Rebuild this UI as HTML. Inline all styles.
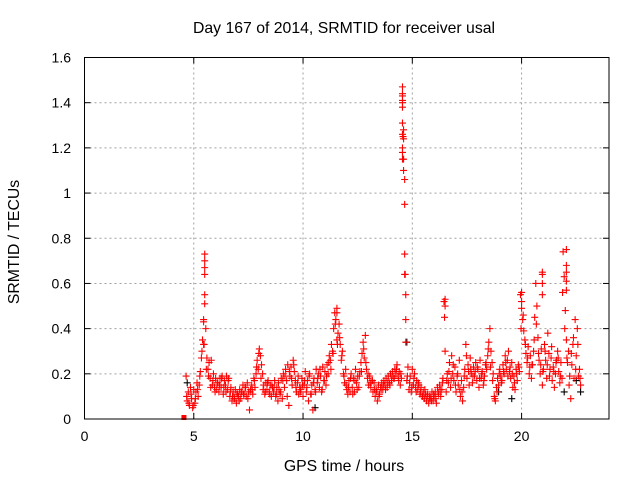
<!DOCTYPE html>
<html><head><meta charset="utf-8"><style>
body{margin:0;background:#fff;}
svg text{font-family:"Liberation Sans",sans-serif;fill:#000;}
</style></head><body>
<svg id="chart" width="640" height="480" viewBox="0 0 640 480" xmlns="http://www.w3.org/2000/svg">
<rect width="640" height="480" fill="#fff"/>
<text x="344" y="33" font-size="15.8" text-anchor="middle">Day 167 of 2014, SRMTID for receiver usal</text>
<text x="344" y="471" font-size="15.8" text-anchor="middle">GPS time / hours</text>
<text x="19" y="242" font-size="15.8" text-anchor="middle" transform="rotate(-90 19 242)">SRMTID / TECUs</text>
<g id="grid"></g><g id="ticks"></g><g id="marks"></g>
<rect x="84.5" y="57.5" width="524.5" height="361.5" fill="none" stroke="#000" stroke-width="1"/>
</svg>
<script>
const xTicks=[0,5,10,15,20];
const yTicks=[0,0.2,0.4,0.6,0.8,1,1.2,1.4,1.6];
const yTickLabels=["0","0.2","0.4","0.6","0.8","1","1.2","1.4","1.6"];
const startTime=4.65;
const timeStep=0.05;
const mainValues=[
0.19,0.08,0.12,0.06,0.14,0.09,0.05,0.13,0.07,0.12,0.16,0.10,0.15,0.21,0.27,0.35,0.43,0.64,0.40,0.27,
0.22,0.25,0.18,0.26,0.15,0.20,0.14,0.18,0.13,0.16,0.12,0.18,0.14,0.19,0.11,0.17,0.15,0.19,0.13,0.18,
0.10,0.14,0.08,0.12,0.09,0.13,0.07,0.11,0.10,0.13,0.09,0.12,0.15,0.11,0.14,0.10,0.16,0.12,0.04,0.13,
0.15,0.11,0.18,0.14,0.20,0.26,0.22,0.31,0.28,0.24,0.20,0.15,0.11,0.16,0.13,0.17,0.12,0.15,0.10,0.14,
0.12,0.17,0.10,0.14,0.08,0.13,0.11,0.18,0.09,0.20,0.14,0.22,0.17,0.24,0.06,0.19,0.23,0.15,0.26,0.21,
0.17,0.12,0.16,0.11,0.14,0.13,0.18,0.10,0.15,0.21,0.12,0.17,0.08,0.20,0.11,0.15,0.04,0.18,0.13,0.22,
0.16,0.20,0.14,0.19,0.12,0.23,0.17,0.21,0.15,0.24,0.20,0.28,0.26,0.33,0.30,0.40,0.47,0.44,0.35,0.38,
0.42,0.33,0.26,0.30,0.20,0.16,0.22,0.13,0.11,0.17,0.12,0.20,0.14,0.18,0.12,0.22,0.16,0.19,0.14,0.21,
0.25,0.29,0.34,0.27,0.37,0.22,0.18,0.15,0.19,0.14,0.17,0.12,0.16,0.10,0.13,0.08,0.15,0.11,0.14,0.16,
0.13,0.17,0.15,0.18,0.14,0.19,0.16,0.20,0.17,0.21,0.18,0.22,0.20,0.24,0.19,0.21,0.15,0.18,1.40,1.15,
0.95,0.55,0.17,0.23,0.13,0.19,0.12,0.22,0.15,0.20,0.14,0.17,0.13,0.15,0.11,0.14,0.10,0.12,0.09,0.11,
0.08,0.11,0.07,0.10,0.09,0.12,0.08,0.10,0.12,0.07,0.14,0.11,0.15,0.10,0.13,0.18,0.52,0.30,0.12,0.20,
0.16,0.25,0.14,0.28,0.20,0.17,0.23,0.12,0.19,0.15,0.26,0.10,0.17,0.08,0.14,0.22,0.33,0.18,0.24,0.15,
0.27,0.20,0.16,0.23,0.19,0.25,0.17,0.22,0.14,0.26,0.18,0.21,0.15,0.19,0.24,0.22,0.28,0.34,0.40,0.30,
0.25,0.20,0.10,0.08,0.14,0.18,0.15,0.22,0.19,0.17,0.24,0.20,0.28,0.22,0.26,0.30,0.21,0.18,0.25,0.14,
0.19,0.13,0.22,0.17,0.24,0.21,0.55,0.49,0.44,0.39,0.35,0.29,0.25,0.32,0.20,0.28,0.18,0.24,0.30,0.45,
0.60,0.50,0.36,0.26,0.20,0.31,0.15,0.22,0.33,0.26,0.18,0.38,0.29,0.22,0.27,0.17,0.23,0.14,0.20,0.26,
0.30,0.21,0.16,0.25,0.18,0.74,0.63,0.48,0.35,0.25,0.30,0.19,0.09,0.24,0.33,0.18,0.44,0.28,0.40,0.19,
0.22,0.15];
const secondStart=4.675;
const secondStep=0.1;
const secondValues=[
0.10,0.07,0.11,0.06,0.09,0.13,0.19,0.30,0.33,0.22,
0.19,0.14,0.17,0.12,0.16,0.15,0.18,0.14,0.12,0.17,
0.12,0.10,0.09,0.11,0.08,0.12,0.11,0.14,0.09,0.12,
0.13,0.17,0.23,0.29,0.18,0.13,0.12,0.16,0.11,0.15,
0.14,0.11,0.16,0.12,0.17,0.19,0.10,0.21,0.18,0.24,
0.14,0.19,0.12,0.15,0.17,0.14,0.19,0.11,0.16,0.12,
0.18,0.22,0.13,0.17,0.19,0.25,0.22,0.29,0.42,0.33,
0.36,0.28,0.19,0.15,0.14,0.18,0.11,0.17,0.13,0.19,
0.21,0.31,0.25,0.20,0.16,0.17,0.13,0.12,0.10,0.13,
0.15,0.13,0.16,0.15,0.19,0.18,0.22,0.17,0.20,1.25,
0.64,0.19,0.16,0.14,0.18,0.12,0.16,0.12,0.10,0.13,
0.10,0.09,0.08,0.11,0.09,0.12,0.13,0.16,0.45,0.17,
0.21,0.18,0.24,0.15,0.20,0.13,0.12,0.19,0.28,0.21,
0.22,0.19,0.21,0.23,0.18,0.20,0.17,0.25,0.31,0.23,
0.17,0.09,0.12,0.20,0.16,0.21,0.25,0.19,0.23,0.20,
0.16,0.20,0.23,0.40,0.46,0.33,0.27,0.23,0.24,0.35,
0.42,0.29,0.24,0.21,0.30,0.24,0.19,0.32,0.21,0.25,
0.27,0.19,0.56,0.40,0.27,0.15,0.29,0.36,0.22,0.33,
0.18];
const extraTimes=[5.50,5.50,5.50,5.50,5.50,5.45,5.45,14.55,14.55,14.55,14.55,14.55,14.55,14.55,14.55,14.55,14.55,14.60,14.60,14.60,14.65,14.65,14.65,14.70,14.70,11.55,11.55,16.50,16.50,20.00,20.00,20.95,20.95,20.95,20.95,22.05,22.05,22.05,22.05,22.05];
const extraValues=[0.73,0.70,0.67,0.55,0.51,0.44,0.33,1.47,1.44,1.43,1.41,1.38,1.31,1.26,1.20,1.18,1.15,1.28,1.24,1.10,1.06,0.73,0.64,0.44,0.34,0.49,0.47,0.53,0.50,0.56,0.52,0.65,0.64,0.60,0.55,0.75,0.68,0.65,0.61,0.57];
const blackTimes=[4.70,10.55,14.75,18.95,19.55,21.95,22.50,22.70];
const blackValues=[0.16,0.05,0.34,0.12,0.09,0.12,0.17,0.12];
const squareTimes=[4.55];
const squareValues=[0];

const X0=84.5,X1=609,Y0=419,Y1=57.5,XMAX=24,YMAX=1.6;
function xs(v){return X0+(X1-X0)*v/XMAX;}
function ys(v){return Y0-(Y0-Y1)*v/YMAX;}
const NS="http://www.w3.org/2000/svg";
const grid=document.getElementById('grid'),ticks=document.getElementById('ticks'),marks=document.getElementById('marks');
function mk(tag,attrs,parent){const e=document.createElementNS(NS,tag);for(const k in attrs)e.setAttribute(k,attrs[k]);parent.appendChild(e);return e;}
xTicks.forEach(t=>{
  const x=xs(t);
  if(t>0){const g=mk('line',{x1:x,x2:x,y1:Y1,y2:Y0,stroke:'#a0a0a0','stroke-dasharray':'2,3'},grid);
  
  }
  mk('line',{x1:x,x2:x,y1:Y0,y2:Y0-6,stroke:'#000'},ticks);
  mk('line',{x1:x,x2:x,y1:Y1,y2:Y1+6,stroke:'#000'},ticks);
  const l=mk('text',{x:x,y:441,'font-size':14,'text-anchor':'middle'},ticks);
  l.textContent=String(t);
  
  
});
yTicks.forEach((t,i)=>{
  const y=ys(t);
  if(t>0&&t<YMAX){const g=mk('line',{x1:X0,x2:X1,y1:y,y2:y,stroke:'#a0a0a0','stroke-dasharray':'2,3'},grid);
  
  }
  mk('line',{x1:X0,x2:X0+6,y1:y,y2:y,stroke:'#000'},ticks);
  mk('line',{x1:X1,x2:X1-6,y1:y,y2:y,stroke:'#000'},ticks);
  const l=mk('text',{x:71,y:y+5,'font-size':14,'text-anchor':'end'},ticks);
  l.textContent=yTickLabels[i];
  
  
});
function plus(t,v,color,name){
  const x=xs(t),y=ys(v);
  const p=mk('path',{d:`M${x-3.5},${y}H${x+3.5}M${x},${y-3.5}V${y+3.5}`,stroke:color,'stroke-width':1.1,fill:'none'},marks);
  
  
}
blackTimes.forEach((t,i)=>plus(t,blackValues[i],'#000','black-point'));
mainValues.forEach((v,i)=>plus(startTime+i*timeStep,v,'#ff0000','srmtid-point'));
secondValues.forEach((v,i)=>plus(secondStart+i*secondStep,v,'#ff0000','srmtid-point'));
extraTimes.forEach((t,i)=>plus(t,extraValues[i],'#ff0000','srmtid-point'));
squareTimes.forEach((t,i)=>{
  const r=mk('rect',{x:xs(t)-2.5,y:ys(squareValues[i])-4,width:5,height:5,fill:'#ff0000'},marks);
  
  
});
</script>
</body></html>
